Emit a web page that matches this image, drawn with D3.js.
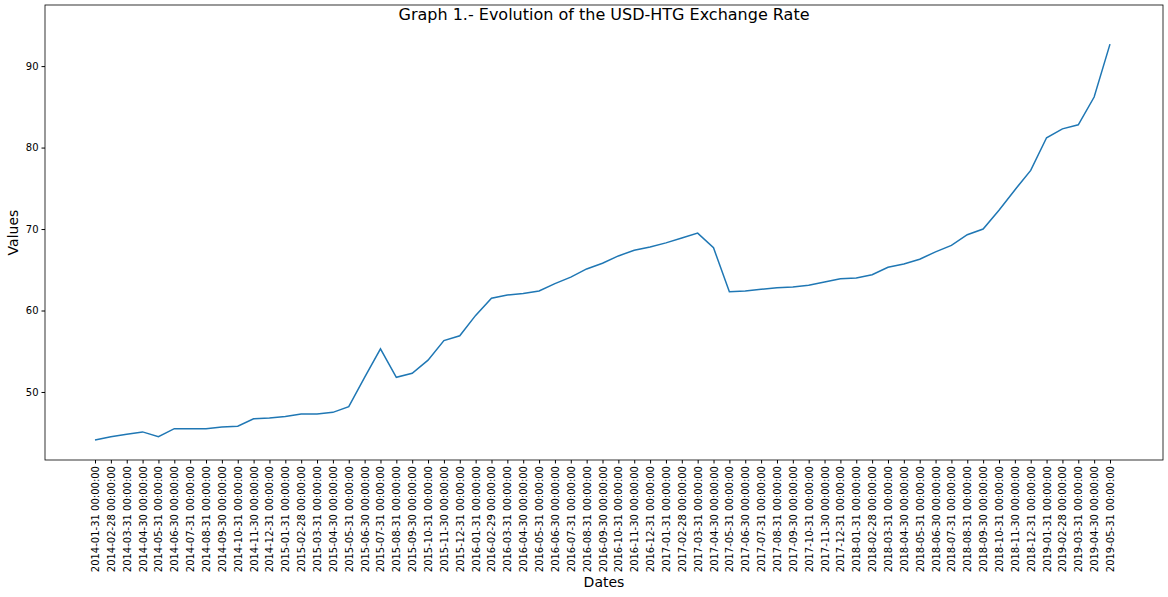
<!DOCTYPE html>
<html>
<head>
<meta charset="utf-8">
<script src="https://cdn.jsdelivr.net/npm/d3@7"></script>
<style>
  body { margin: 0; background: #fff; }
  text { font-family: "DejaVu Sans", sans-serif; }
</style>
</head>
<body>
<svg id="chart" width="1168" height="597"></svg>
<script>
// ── Data (monthly USD-HTG rate) ──
const startYear = 2014;
const monthEnds = ['01-31','02-28','03-31','04-30','05-31','06-30','07-31','08-31','09-30','10-31','11-30','12-31'];
const values = [
  44.1, 44.5, 44.8, 45.1, 44.5, 45.5, 45.5, 45.5, 45.7, 45.8, 46.7, 46.8,
  47.0, 47.3, 47.3, 47.5, 48.2, 51.8, 55.3, 51.8, 52.3, 53.9, 56.3, 56.9,
  59.4, 61.5, 61.9, 62.1, 62.4, 63.3, 64.1, 65.1, 65.8, 66.7, 67.4, 67.8,
  68.3, 68.9, 69.5, 67.7, 62.3, 62.4, 62.6, 62.8, 62.9, 63.1, 63.5, 63.9,
  64.0, 64.4, 65.3, 65.7, 66.3, 67.2, 68.0, 69.3, 70.0, 72.3, 74.8, 77.2,
  81.2, 82.3, 82.8, 86.2, 92.7
];
const dates = values.map((v, i) => {
  const y = startYear + Math.floor(i / 12);
  let md = monthEnds[i % 12];
  if (md === '02-28' && y % 4 === 0) md = '02-29';
  return `${y}-${md} 00:00:00`;
});
const yTicks = [50, 60, 70, 80, 90];

const svg = d3.select('#chart');
const plot = { left: 45, right: 1163, top: 5, bottom: 460 };

const x = d3.scalePoint().domain(dates).range([95, 1110]);
const y = d3.scaleLinear().domain([41.65, 97.5]).range([plot.bottom, plot.top]);

// Line
svg.append('path')
  .datum(values)
  .attr('fill', 'none')
  .attr('stroke', '#1f77b4')
  .attr('stroke-width', 1.5)
  .attr('d', d3.line().x((d, i) => x(dates[i])).y(d => y(d)));

// Axes
const xAxis = svg.append('g')
  .attr('transform', `translate(0,${plot.bottom})`)
  .call(d3.axisBottom(x).tickSize(3.5).tickPadding(2));
xAxis.select('.domain').remove();
xAxis.selectAll('text')
  .attr('font-size', '10px')
  .attr('fill', '#000')
  .attr('text-anchor', 'end')
  .attr('transform', 'rotate(-90)')
  .attr('x', -6).attr('y', 0).attr('dy', '0.35em');

const yAxis = svg.append('g')
  .attr('transform', `translate(${plot.left},0)`)
  .call(d3.axisLeft(y).tickValues(yTicks).tickSize(3.5).tickPadding(3));
yAxis.select('.domain').remove();
yAxis.selectAll('text').attr('font-size', '10px').attr('fill', '#000');

// Frame
svg.append('rect')
  .attr('x', plot.left).attr('y', plot.top)
  .attr('width', plot.right - plot.left).attr('height', plot.bottom - plot.top)
  .attr('fill', 'none').attr('stroke', '#000').attr('stroke-width', 0.8);

// Labels
svg.append('text').attr('x', (plot.left + plot.right) / 2).attr('y', 20)
  .attr('text-anchor', 'middle').attr('font-size', '16px').text('Graph 1.- Evolution of the USD-HTG Exchange Rate');
svg.append('text').attr('x', (plot.left + plot.right) / 2).attr('y', 587)
  .attr('text-anchor', 'middle').attr('font-size', '14px').text('Dates');
svg.append('text').attr('transform', `translate(18,${(plot.top + plot.bottom) / 2}) rotate(-90)`)
  .attr('text-anchor', 'middle').attr('font-size', '14px').text('Values');
</script>
</body>
</html>
